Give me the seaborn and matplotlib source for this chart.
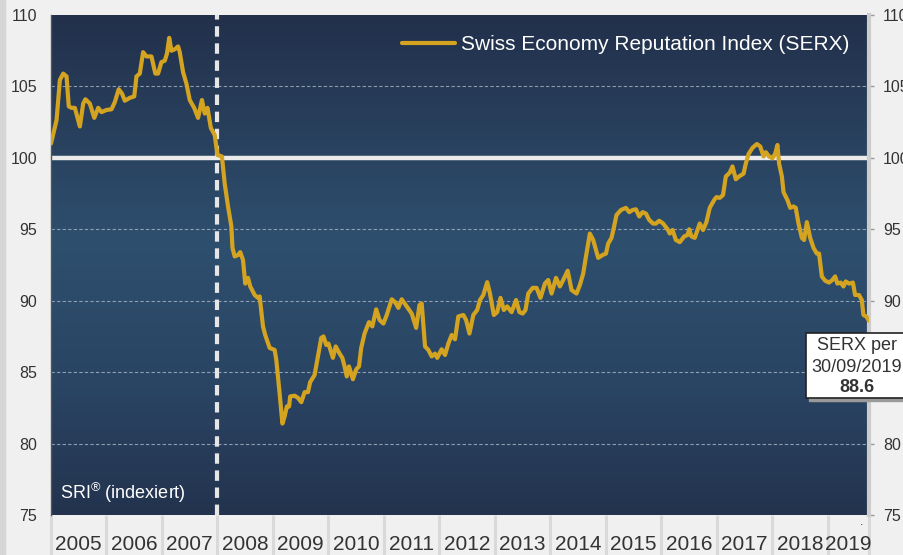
import numpy as np
import matplotlib
matplotlib.use('Agg')  # no display
import matplotlib.pyplot as plt
import seaborn as sns
from matplotlib.colors import LinearSegmentedColormap
from matplotlib.patches import Rectangle

# --- data (decimal year, index value) ---
years = list(range(2005, 2020))
x_end = 2019.74  # data ends 30/09/2019
crisis_year = 2008
grid_levels = [80, 85, 90, 95, 105]
base_level = 100
y_ticks = [75, 80, 85, 90, 95, 100, 105, 110]
series_name = 'Swiss Economy Reputation Index (SERX)'
last_date = '30/09/2019'
last_value = 88.6

t_year = [
    2005.00, 2005.10, 2005.16, 2005.22, 2005.28, 2005.32, 2005.37, 2005.43, 2005.52, 2005.58,
    2005.62, 2005.70, 2005.78, 2005.85, 2005.91, 2006.00, 2006.09, 2006.15, 2006.22, 2006.28,
    2006.33, 2006.42, 2006.50, 2006.54, 2006.60, 2006.66, 2006.72, 2006.81, 2006.88, 2006.93,
    2006.99, 2007.05, 2007.09, 2007.13, 2007.17, 2007.23, 2007.29, 2007.32, 2007.38, 2007.44,
    2007.50, 2007.58, 2007.65, 2007.72, 2007.77, 2007.82, 2007.88, 2007.95, 2008.00, 2008.08,
    2008.13, 2008.19, 2008.25, 2008.27, 2008.31, 2008.37, 2008.41, 2008.46, 2008.50, 2008.55,
    2008.59, 2008.67, 2008.73, 2008.76, 2008.82, 2008.86, 2008.94, 2009.03, 2009.06, 2009.12,
    2009.17, 2009.21, 2009.25, 2009.29, 2009.31, 2009.39, 2009.45, 2009.51, 2009.57, 2009.63,
    2009.67, 2009.75, 2009.81, 2009.87, 2009.91, 2009.96, 2010.00, 2010.08, 2010.13, 2010.20,
    2010.25, 2010.29, 2010.33, 2010.37, 2010.41, 2010.44, 2010.50, 2010.55, 2010.59, 2010.65,
    2010.73, 2010.79, 2010.86, 2010.92, 2010.99, 2011.05, 2011.14, 2011.20, 2011.26, 2011.32,
    2011.41, 2011.50, 2011.58, 2011.64, 2011.68, 2011.74, 2011.80, 2011.86, 2011.92, 2011.96,
    2012.04, 2012.10, 2012.16, 2012.22, 2012.28, 2012.34, 2012.43, 2012.48, 2012.54, 2012.61,
    2012.68, 2012.73, 2012.79, 2012.86, 2012.91, 2012.98, 2013.04, 2013.10, 2013.16, 2013.22,
    2013.30, 2013.38, 2013.44, 2013.50, 2013.55, 2013.60, 2013.68, 2013.75, 2013.82, 2013.90,
    2013.96, 2014.02, 2014.10, 2014.17, 2014.23, 2014.31, 2014.38, 2014.47, 2014.53, 2014.59,
    2014.64, 2014.71, 2014.77, 2014.82, 2014.86, 2014.94, 2015.00, 2015.04, 2015.10, 2015.14,
    2015.19, 2015.27, 2015.36, 2015.42, 2015.48, 2015.54, 2015.60, 2015.66, 2015.72, 2015.78,
    2015.85, 2015.90, 2015.96, 2016.03, 2016.11, 2016.15, 2016.20, 2016.26, 2016.33, 2016.41,
    2016.47, 2016.50, 2016.54, 2016.60, 2016.65, 2016.69, 2016.75, 2016.81, 2016.87, 2016.95,
    2016.99, 2017.05, 2017.11, 2017.16, 2017.23, 2017.28, 2017.34, 2017.40, 2017.48, 2017.52,
    2017.57, 2017.64, 2017.72, 2017.78, 2017.84, 2017.88, 2017.94, 2018.00, 2018.05, 2018.09,
    2018.12, 2018.17, 2018.20, 2018.27, 2018.32, 2018.38, 2018.42, 2018.47, 2018.53, 2018.57,
    2018.62, 2018.68, 2018.74, 2018.80, 2018.84, 2018.89, 2018.95, 2019.02, 2019.08, 2019.13,
    2019.17, 2019.23, 2019.28, 2019.32, 2019.38, 2019.45, 2019.49, 2019.56, 2019.61, 2019.64,
    2019.69, 2019.74,
]
serx = [
    101.0, 102.65, 105.45, 105.9, 105.7, 103.6, 103.5, 103.5, 102.2, 103.8,
    104.1, 103.8, 102.8, 103.5, 103.2, 103.35, 103.4, 103.9, 104.8, 104.5,
    104.0, 104.2, 104.3, 105.7, 105.9, 107.4, 107.1, 107.1, 105.9, 105.9,
    106.7, 106.8, 107.3, 108.4, 107.5, 107.6, 107.8, 107.4, 106.0, 105.2,
    104.05, 103.5, 102.8, 104.05, 103.1, 103.5, 102.1, 101.6, 100.2, 100.1,
    98.2, 96.6, 95.2, 93.7, 93.1, 93.2, 93.4, 92.85, 91.2, 91.6,
    91.0, 90.4, 90.2, 90.3, 88.2, 87.6, 86.7, 86.55, 85.85, 83.5,
    81.4, 81.9, 82.6, 82.6, 83.3, 83.35, 83.2, 82.9, 83.6, 83.6,
    84.3, 84.8, 86.1, 87.4, 87.5, 86.9, 87.0, 86.0, 86.8, 86.3,
    86.0, 85.4, 84.7, 85.4, 84.9, 84.5, 85.2, 85.4, 86.7, 87.7,
    88.5, 88.2, 89.4, 88.65, 88.4, 89.0, 90.1, 89.9, 89.5, 90.1,
    89.6, 89.1, 88.1, 89.7, 89.8, 86.8, 86.55, 86.1, 86.3, 86.0,
    86.6, 86.2, 87.0, 87.6, 87.3, 88.9, 89.0, 88.65, 87.7, 89.0,
    89.35, 90.05, 90.4, 91.3, 90.5, 89.0, 89.2, 90.2, 89.35, 89.6,
    89.2, 90.05, 89.2, 89.1, 89.35, 90.5, 90.9, 90.9, 90.2, 91.2,
    91.45, 90.5, 91.6, 91.0, 91.45, 92.1, 90.75, 90.5, 91.1, 91.9,
    93.1, 94.7, 94.25, 93.55, 93.0, 93.2, 93.3, 94.0, 94.4, 95.07,
    96.0, 96.35, 96.5, 96.2, 96.35, 96.4, 95.9, 96.2, 96.1, 95.65,
    95.4, 95.4, 95.6, 95.4, 95.0, 94.7, 94.95, 94.25, 94.1, 94.5,
    94.6, 95.0, 94.5, 94.4, 94.95, 95.4, 94.95, 95.5, 96.5, 97.05,
    97.25, 97.2, 97.4, 98.7, 98.96, 99.4, 98.5, 98.7, 98.9, 99.6,
    100.27, 100.7, 100.97, 100.8, 100.1, 100.4, 100.1, 99.97, 100.3, 100.9,
    99.6, 98.7, 97.6, 97.05, 96.5, 96.6, 96.5, 95.4, 94.4, 94.25,
    95.5, 94.4, 93.7, 93.3, 93.3, 91.7, 91.4, 91.27, 91.45, 91.7,
    91.2, 91.27, 91.0, 91.35, 91.2, 91.27, 90.4, 90.4, 90.05, 89.0,
    88.9, 88.6,
]

sns.set_theme(style='white')
plt.rcParams['font.family'] = ['Liberation Sans', 'DejaVu Sans']
plt.rcParams['mathtext.fontset'] = 'custom'
plt.rcParams['mathtext.rm'] = 'Liberation Sans'

fig = plt.figure(figsize=(9.04, 5.55), dpi=100, facecolor='#f0f0f0')
ax = fig.add_axes([51 / 904, 40 / 555, 818 / 904, 500 / 555])

# dark blue gradient background
bg = LinearSegmentedColormap.from_list(
    'bg', [(0.0, '#22304b'), (0.45, '#2e4f6e'), (0.75, '#2a4463'), (1.0, '#23334e')])
ax.imshow(np.linspace(0, 1, 256).reshape(-1, 1), cmap=bg, aspect='auto',
          extent=[years[0], x_end, y_ticks[0], y_ticks[-1]], origin='upper', zorder=0)

for lvl in grid_levels:
    ax.axhline(lvl, color='#a9b6c6', lw=0.8, ls=(0, (3, 2)), alpha=0.8, zorder=1)
ax.axhline(base_level, color='#ebebeb', lw=3.2, zorder=2)
ax.axvline(crisis_year, color='#e6e6e6', lw=3, ls=(0, (2.5, 1.6)), zorder=2)

sns.lineplot(x=t_year, y=serx, ax=ax, color='#d4a421', lw=3, label=series_name, zorder=3)

ax.set_xlim(years[0], x_end)
ax.set_ylim(y_ticks[0], y_ticks[-1])

# year boundaries as long grey ticks, year names centred in between
ax.set_xticks(years + [x_end])
ax.set_xticklabels([''] * (len(years) + 1))
mids = [(y + min(y + 1, x_end)) / 2 for y in years]
ax.set_xticks(mids, minor=True)
ax.set_xticklabels([str(y) for y in years], minor=True)
ax.tick_params(axis='x', which='major', bottom=True, length=29, width=2.2,
               color='#d9d9d9', direction='out')
ax.tick_params(axis='x', which='minor', bottom=True, length=0, labelsize=15,
               pad=14.5, labelcolor='#333333')

ax.set_yticks(y_ticks)
ax.tick_params(axis='y', left=False, right=True, labelleft=True, labelright=True,
               length=3.6, width=1, color='#999999', pad=6.5, labelsize=11.5,
               labelcolor='#333333')

ax.spines['top'].set_visible(False)
ax.spines['bottom'].set_visible(False)
ax.spines['left'].set_color('#555555')
ax.spines['left'].set_linewidth(1)
ax.spines['right'].set_color('#cccccc')
ax.spines['right'].set_linewidth(3)

ax.legend(loc='upper right', frameon=False, fontsize=15, labelcolor='white',
          handlelength=2.5, handletextpad=0.3, borderaxespad=0.55)

ax.text(0.011, 0.02, r'SRI$^{®}$ (indexiert)', transform=ax.transAxes,
        color='white', fontsize=13, ha='left', va='bottom')

# grey strip at left edge of the picture
fig.patches.append(Rectangle((0, 0), 5 / 904, 1, transform=fig.transFigure,
                             color='#d6d6d6', zorder=0))

# last value call-out
fig.patches.append(Rectangle((809 / 904, 154 / 555), 100 / 904, 65 / 555,
                             transform=fig.transFigure, color='#9a9a9a', zorder=2))
fig.patches.append(Rectangle((806 / 904, 157 / 555), 100 / 904, 65 / 555,
                             transform=fig.transFigure, facecolor='white',
                             edgecolor='#222222', lw=1.2, zorder=3))
fig.text(857 / 904, (555 - 345) / 555, 'SERX per', ha='center', va='center',
         fontsize=13, color='#333333', zorder=4)
fig.text(857 / 904, (555 - 367) / 555, last_date, ha='center', va='center',
         fontsize=13, color='#333333', zorder=4)
fig.text(857 / 904, (555 - 388) / 555, f'{last_value:.1f}', ha='center', va='center',
         fontsize=13, color='#333333', fontweight='bold', zorder=4)
fig.text(862 / 904, (555 - 522) / 555, '.', ha='center', va='center',
         fontsize=9, color='#333333')

fig.savefig('out.png', dpi=100, facecolor=fig.get_facecolor())
